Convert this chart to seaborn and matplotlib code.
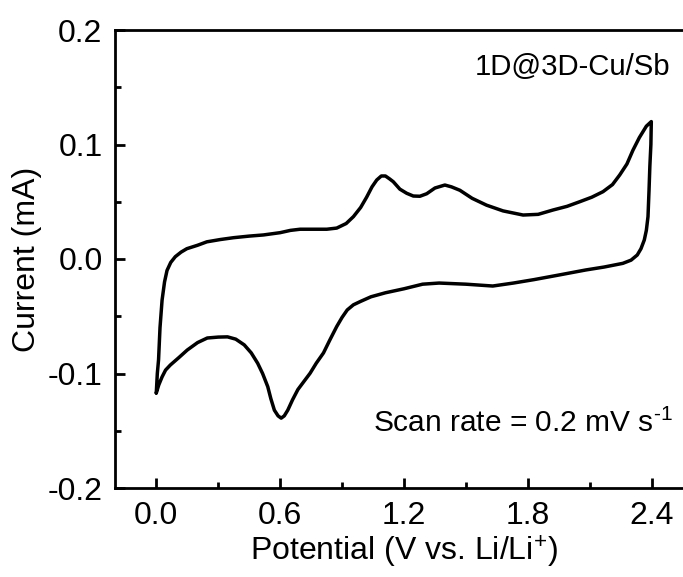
import matplotlib
matplotlib.use("Agg")
import matplotlib.pyplot as plt
import seaborn as sns
import pandas as pd
from matplotlib.ticker import MultipleLocator, FormatStrFormatter

# ---- data ----
anodic_potential = [0.000, 0.005, 0.011, 0.018, 0.028, 0.040, 0.052, 0.070, 0.092, 0.120,
                    0.148, 0.200, 0.245, 0.310, 0.374, 0.450, 0.519, 0.600, 0.650, 0.697,
                    0.760, 0.826, 0.874, 0.920, 0.955, 0.990, 1.019, 1.045, 1.068, 1.090,
                    1.110, 1.130, 1.148, 1.180, 1.213, 1.245, 1.277, 1.310, 1.350, 1.398,
                    1.430, 1.471, 1.530, 1.600, 1.680, 1.777, 1.850, 1.922, 1.990, 2.051,
                    2.110, 2.164, 2.210, 2.245, 2.280, 2.309, 2.340, 2.374, 2.398]
anodic_current = [-0.117, -0.100, -0.088, -0.060, -0.036, -0.020, -0.010, -0.003, 0.002, 0.006,
                  0.009, 0.012, 0.015, 0.017, 0.0186, 0.020, 0.021, 0.023, 0.025, 0.026,
                  0.026, 0.026, 0.027, 0.031, 0.037, 0.045, 0.054, 0.063, 0.069, 0.0725,
                  0.0725, 0.070, 0.0675, 0.061, 0.0574, 0.055, 0.0548, 0.057, 0.062, 0.0646,
                  0.063, 0.060, 0.053, 0.047, 0.042, 0.0384, 0.039, 0.0428, 0.046, 0.050,
                  0.054, 0.0588, 0.065, 0.0734, 0.083, 0.095, 0.106, 0.116, 0.120]
cathodic_potential = [2.396, 2.391, 2.387, 2.382, 2.374, 2.364, 2.348, 2.330, 2.300, 2.260,
                      2.170, 2.080, 1.950, 1.830, 1.730, 1.630, 1.500, 1.370, 1.290, 1.200,
                      1.110, 1.040, 0.990, 0.955, 0.925, 0.900, 0.874, 0.840, 0.810, 0.775,
                      0.745, 0.715, 0.686, 0.660, 0.637, 0.620, 0.605, 0.590, 0.572, 0.555,
                      0.540, 0.515, 0.491, 0.460, 0.426, 0.385, 0.345, 0.300, 0.247, 0.200,
                      0.150, 0.110, 0.068, 0.045, 0.028, 0.012, 0.000]
cathodic_current = [0.100, 0.081, 0.060, 0.037, 0.025, 0.0166, 0.009, 0.0035, -0.001, -0.0038,
                    -0.007, -0.0096, -0.014, -0.018, -0.021, -0.0236, -0.022, -0.021, -0.022, -0.026,
                    -0.0295, -0.033, -0.037, -0.040, -0.0445, -0.051, -0.059, -0.071, -0.082, -0.091,
                    -0.0998, -0.107, -0.114, -0.123, -0.132, -0.137, -0.139, -0.137, -0.132, -0.122,
                    -0.1115, -0.100, -0.091, -0.082, -0.075, -0.070, -0.068, -0.0682, -0.069, -0.073,
                    -0.0795, -0.086, -0.0926, -0.097, -0.103, -0.110, -0.117]

x_ticks = [0.0, 0.6, 1.2, 1.8, 2.4]
y_ticks = [-0.2, -0.1, 0.0, 0.1, 0.2]
label_text = "1D@3D-Cu/Sb"
scan_text = "Scan rate = 0.2 mV s$^{\\text{-}1}$"

df = pd.DataFrame({
    "Potential": anodic_potential + cathodic_potential,
    "Current": anodic_current + cathodic_current,
})

sns.set_theme(style="ticks")
plt.rcParams["font.family"] = ["Liberation Sans", "DejaVu Sans"]
plt.rcParams["mathtext.fontset"] = "custom"
plt.rcParams["mathtext.rm"] = "Liberation Sans"
plt.rcParams["mathtext.it"] = "Liberation Sans:italic"
plt.rcParams["mathtext.bf"] = "Liberation Sans:bold"
plt.rcParams["axes.unicode_minus"] = False
plt.rcParams["text.color"] = "black"
plt.rcParams["axes.labelcolor"] = "black"
plt.rcParams["xtick.color"] = "black"
plt.rcParams["ytick.color"] = "black"

fig = plt.figure(figsize=(6.83, 5.77), dpi=100)
ax = fig.add_axes([115 / 683, 1 - 488 / 577, (693 - 115) / 683, (488 - 30) / 577])

sns.lineplot(data=df, x="Potential", y="Current", sort=False, estimator=None,
             color="black", linewidth=2.5, ax=ax)

ax.set_xlim(-0.2, 2.6)
ax.set_ylim(-0.2, 0.2)
ax.set_xticks(x_ticks)
ax.set_yticks(y_ticks)
ax.xaxis.set_major_formatter(FormatStrFormatter("%.1f"))
ax.yaxis.set_major_formatter(FormatStrFormatter("%.1f"))
ax.xaxis.set_minor_locator(MultipleLocator(0.3))
ax.yaxis.set_minor_locator(MultipleLocator(0.05))
ax.tick_params(which="both", direction="in", top=False, right=False, width=2,
               colors="black", labelcolor="black")
ax.tick_params(which="major", length=7, labelsize=23, pad=9)
ax.tick_params(which="minor", length=4)

for side in ["left", "bottom", "top"]:
    ax.spines[side].set_linewidth(2)
    ax.spines[side].set_color("black")
ax.spines["right"].set_visible(False)

ax.set_xlabel("Potential (V vs. Li/Li$^{+}$)", fontsize=23, labelpad=2, color="black")
ax.set_ylabel("Current (mA)", fontsize=23, labelpad=4, color="black")

ax.text(670 / 683, 1 - 75 / 577, label_text, transform=fig.transFigure,
        ha="right", va="baseline", fontsize=21.2, color="black")
ax.text(673 / 683, 1 - 432 / 577, scan_text, transform=fig.transFigure,
        ha="right", va="baseline", fontsize=21.5, color="black")

fig.savefig("out.png", dpi=100)
